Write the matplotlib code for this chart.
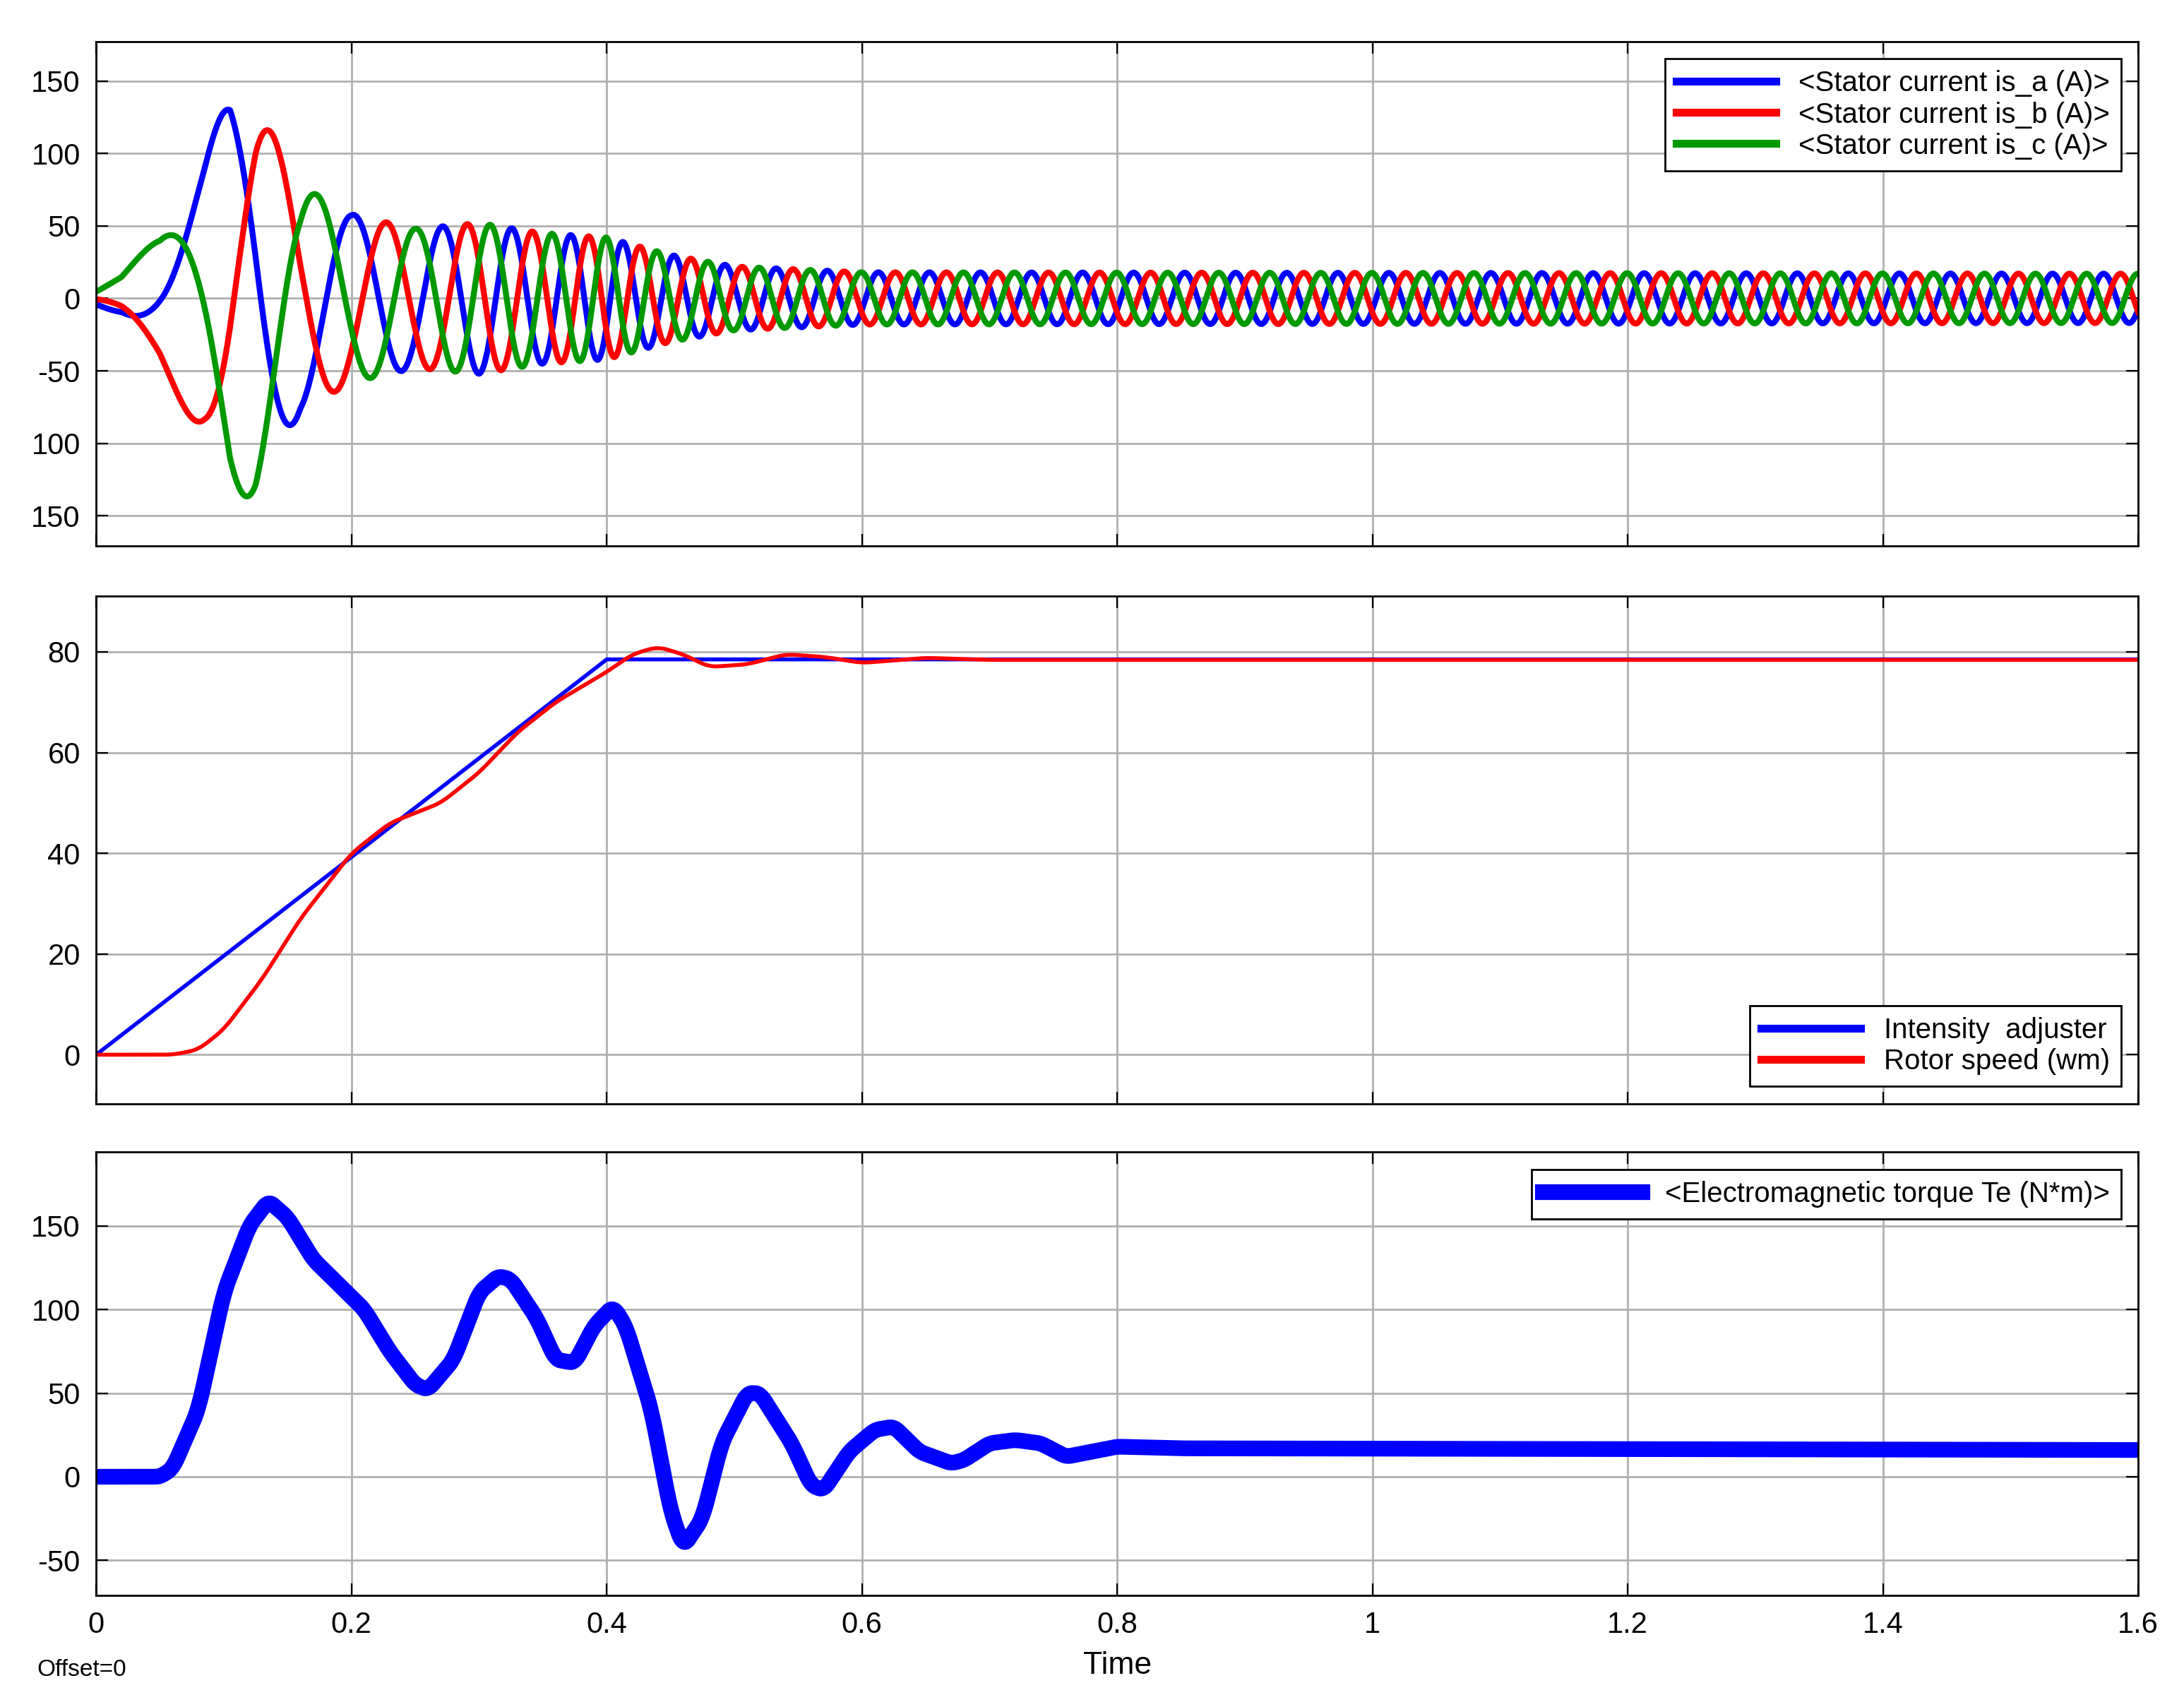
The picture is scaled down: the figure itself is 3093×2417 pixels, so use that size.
import numpy as np
import matplotlib
matplotlib.use("Agg")
import matplotlib.pyplot as plt

plt.rcParams['font.family'] = ['Liberation Sans', 'DejaVu Sans']

# ---- data ----
amp_t = [0, 0.02, 0.05, 0.085, 0.105, 0.125, 0.143, 0.16, 0.2, 0.25, 0.3, 0.35, 0.4, 0.45, 0.5, 0.6, 1.6]
amp_v = [5, 15, 45, 100, 140, 135, 105, 78, 58, 48, 52, 45, 42, 30, 22, 18, 17]
freq_t = [0, 0.1, 0.2, 0.3, 0.4, 1.6]
freq_hz = [1.5, 7.0, 12.0, 18.5, 25, 25]

ref_t = [0, 0.4, 1.6]
ref_v = [0, 78.5, 78.5]
rot_t = [0, 0.06, 0.08, 0.1, 0.13, 0.16, 0.2, 0.23, 0.27, 0.3, 0.33, 0.36, 0.4, 0.42, 0.44, 0.46,
         0.48, 0.51, 0.54, 0.57, 0.6, 0.65, 0.7, 1.6]
rot_v = [0, 0, 1, 5, 15, 27, 40, 46, 50, 56, 64, 70, 76, 79.5, 81, 79.5, 77, 77.5, 79.5, 79, 77.8, 78.8, 78.4, 78.4]

tq_t = [0, 0.05, 0.06, 0.08, 0.1, 0.12, 0.135, 0.15, 0.17, 0.19, 0.21, 0.23, 0.25, 0.26, 0.28, 0.3,
        0.315, 0.325, 0.345, 0.36, 0.375, 0.39, 0.405, 0.415, 0.435, 0.45, 0.46, 0.475, 0.49, 0.51,
        0.52, 0.545, 0.56, 0.57, 0.59, 0.61, 0.625, 0.645, 0.67, 0.68, 0.7, 0.72, 0.74, 0.76, 0.78,
        0.8, 0.85, 1.6]
tq_v = [0, 0, 5, 40, 110, 150, 165, 155, 130, 115, 100, 75, 55, 52, 70, 110, 120, 118, 95, 70, 68,
        90, 102, 90, 40, -20, -42, -25, 20, 50, 50, 20, -5, -8, 15, 28, 30, 15, 8, 10, 20, 22, 20,
        12, 15, 18, 17, 16]

t = np.linspace(0, 1.6, 16001)
A = np.interp(t, amp_t, amp_v)
f = np.interp(t, freq_t, freq_hz)
theta = 2 * np.pi * np.cumsum(f) * (t[1] - t[0])
ph0 = -0.3 * np.pi
ia = A * np.sin(theta + ph0)
ib = A * np.sin(theta + ph0 - 2 * np.pi / 3)
ic = A * np.sin(theta + ph0 + 2 * np.pi / 3)

def smooth(y, n=80):
    k = np.ones(n) / n
    yp = np.pad(y, (n, n), mode='edge')
    return np.convolve(yp, k, mode='same')[n:-n]

ref = np.interp(t, ref_t, ref_v)
rot = smooth(np.interp(t, rot_t, rot_v), 150)
tq = smooth(np.interp(t, tq_t, tq_v), 80)

fig = plt.figure(figsize=(15.465, 12.085), dpi=200)
L, W = 0.044, 0.935
ax1 = fig.add_axes([L, 0.68, W, 0.2955])
ax2 = fig.add_axes([L, 0.3535, W, 0.2971])
ax3 = fig.add_axes([L, 0.0653, W, 0.2597])

ax1.plot(t, ia, color='#0000ff', lw=3, label='<Stator current is_a (A)>')
ax1.plot(t, ib, color='#ff0000', lw=3, label='<Stator current is_b (A)>')
ax1.plot(t, ic, color='#009900', lw=3, label='<Stator current is_c (A)>')
ax1.set_ylim(-171, 177)
ax1.set_yticks([-150, -100, -50, 0, 50, 100, 150])
ax1.set_yticklabels(['150', '100', '-50', '0', '50', '100', '150'])

ax2.plot(t, ref, color='#0000ff', lw=2, label='Intensity  adjuster')
ax2.plot(t, rot, color='#ff0000', lw=2, label='Rotor speed (wm)')
ax2.set_ylim(-9.7, 91)
ax2.set_yticks([0, 20, 40, 60, 80])

ax3.plot(t, tq, color='#0000ff', lw=8, label='<Electromagnetic torque Te (N*m)>')
ax3.set_ylim(-71, 194)
ax3.set_yticks([-50, 0, 50, 100, 150])
ax3.set_yticklabels(['-50', '0', '50', '100', '150'])

for ax in (ax1, ax2, ax3):
    ax.set_xlim(0, 1.6)
    ax.set_xticks(np.arange(0, 1.61, 0.2))
    ax.grid(True, color='#b0b0b0', lw=1)
    ax.tick_params(direction='in', top=True, right=True, labelsize=15, length=6, pad=8)
    for s in ax.spines.values():
        s.set_linewidth(1)
for ax in (ax1, ax2):
    ax.set_xticklabels([])
ax3.set_xticklabels(['0', '0.2', '0.4', '0.6', '0.8', '1', '1.2', '1.4', '1.6'])
ax3.set_xlabel('Time', fontsize=16, labelpad=6)
fig.text(0.017, 0.018, 'Offset=0', fontsize=12)

lk = dict(fontsize=14.5, fancybox=False, edgecolor='black', framealpha=1, handlelength=3.5,
          borderaxespad=0.6, labelspacing=0.15)
l = ax1.legend(loc='upper right', **lk)
for h in l.get_lines(): h.set_linewidth(4)
l = ax2.legend(loc='lower right', **lk)
for h in l.get_lines(): h.set_linewidth(4)
ax3.legend(loc='upper right', **lk)

fig.savefig('out.png', dpi=200)
